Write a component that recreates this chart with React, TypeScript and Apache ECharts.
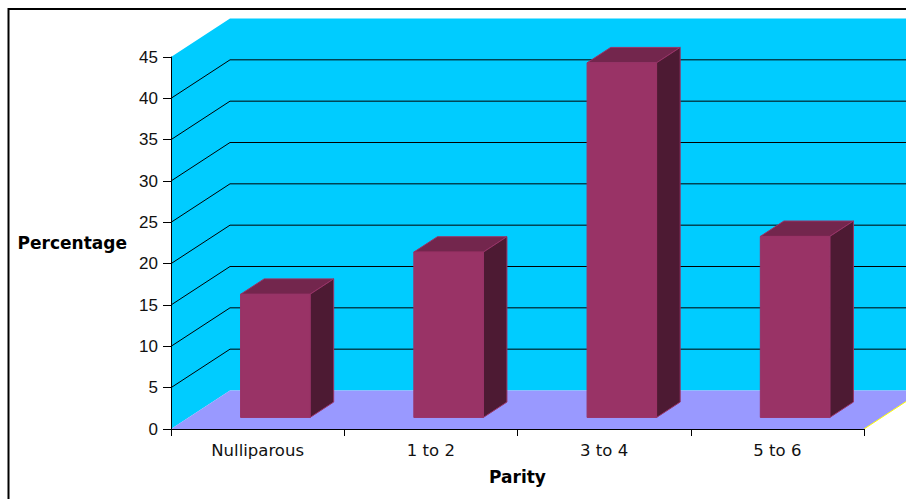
import React, { useEffect, useRef } from "react";
import * as echarts from "echarts";

const categories = ["Nulliparous", "1 to 2", "3 to 4", "5 to 6"];
const percentages = [14.9, 20, 42.9, 21.9];
const wallGridValues = [5, 10, 15, 20, 25, 30, 35, 40];

// Oblique projection of the chart's depth axis, in pixels.
const DEPTH_X = 59;
const DEPTH_Y = 38.5;
const BAR_WIDTH = 69.5;
const BAR_Z_FRONT = 0.3;
const BAR_Z_DEPTH = 0.4;

const LABEL_FONT = "DejaVu Sans";

function wallItem(params: any) {
  const { x, y, width, height } = params.coordSys;
  const r = x + width;
  const b = y + height;
  return {
    type: "polygon",
    silent: true,
    shape: {
      points: [
        [x, b],
        [x, y],
        [x + DEPTH_X, y - DEPTH_Y],
        [r + DEPTH_X, y - DEPTH_Y],
        [r + DEPTH_X, b - DEPTH_Y],
        [x + DEPTH_X, b - DEPTH_Y],
      ],
    },
    style: { fill: "#00CCFF" },
  };
}

function floorItem(params: any) {
  const { x, y, width, height } = params.coordSys;
  const r = x + width;
  const b = y + height;
  return {
    type: "group",
    children: [
      {
        type: "polygon",
        silent: true,
        shape: {
          points: [
            [x, b],
            [r, b],
            [r + DEPTH_X, b - DEPTH_Y],
            [x + DEPTH_X, b - DEPTH_Y],
          ],
        },
        style: { fill: "#9999FF" },
      },
      {
        type: "line",
        silent: true,
        shape: { x1: r, y1: b, x2: r + DEPTH_X, y2: b - DEPTH_Y },
        style: { stroke: "#FFFF00", lineWidth: 1 },
      },
    ],
  };
}

function wallGridItem(params: any, api: any) {
  const { x, width } = params.coordSys;
  const y = api.coord([0, api.value(1)])[1];
  return {
    type: "polyline",
    silent: true,
    shape: {
      points: [
        [x, y],
        [x + DEPTH_X, y - DEPTH_Y],
        [x + width + DEPTH_X, y - DEPTH_Y],
      ],
    },
    style: { fill: "none", stroke: "#000000", lineWidth: 1 },
  };
}

function barItem(_params: any, api: any) {
  const [cx, top] = api.coord([api.value(0), api.value(1)]);
  const [, base] = api.coord([api.value(0), 0]);
  const left = cx + BAR_Z_FRONT * DEPTH_X - BAR_WIDTH / 2;
  const right = left + BAR_WIDTH;
  const yTop = top - BAR_Z_FRONT * DEPTH_Y;
  const yBase = base - BAR_Z_FRONT * DEPTH_Y;
  const dx = BAR_Z_DEPTH * DEPTH_X;
  const dy = BAR_Z_DEPTH * DEPTH_Y;
  const edge = { stroke: "#993366", lineWidth: 1 };
  return {
    type: "group",
    children: [
      {
        type: "polygon",
        shape: {
          points: [
            [left, yTop],
            [right, yTop],
            [right + dx, yTop - dy],
            [left + dx, yTop - dy],
          ],
        },
        style: { fill: "#73264D", ...edge },
      },
      {
        type: "polygon",
        shape: {
          points: [
            [right, yTop],
            [right + dx, yTop - dy],
            [right + dx, yBase - dy],
            [right, yBase],
          ],
        },
        style: { fill: "#4D1A33", ...edge },
      },
      {
        type: "rect",
        shape: { x: left, y: yTop, width: BAR_WIDTH, height: yBase - yTop },
        style: { fill: "#993366", ...edge },
      },
    ],
  };
}

export default function App() {
  const ref = useRef<HTMLDivElement>(null);

  useEffect(() => {
    document.body.style.margin = "0";
    const chart = echarts.init(ref.current!, null, { renderer: "svg" });
    chart.setOption({
      animation: false,
      backgroundColor: "#FFFFFF",
      grid: { left: 171, top: 57, width: 693, height: 372, containLabel: false },
      xAxis: {
        type: "category",
        data: categories,
        z: 5,
        name: "Parity",
        nameLocation: "middle",
        nameGap: 39,
        nameTextStyle: { fontFamily: LABEL_FONT, fontWeight: "bold", fontSize: 17, color: "#000000" },
        axisLine: { lineStyle: { color: "#000000", width: 1 } },
        axisTick: { show: true, alignWithLabel: false, length: 7, lineStyle: { color: "#000000" } },
        axisLabel: { margin: 13, fontFamily: LABEL_FONT, fontSize: 16.5, color: "#111111" },
        splitLine: { show: false },
      },
      yAxis: {
        type: "value",
        min: 0,
        max: 45,
        interval: 5,
        z: 5,
        name: "Percentage",
        nameLocation: "middle",
        nameRotate: 0,
        nameGap: 44,
        nameTextStyle: {
          fontFamily: LABEL_FONT,
          fontWeight: "bold",
          fontSize: 17,
          color: "#000000",
          padding: [0, 0, 2, 0],
        },
        axisLine: { show: true, lineStyle: { color: "#000000", width: 1 } },
        axisTick: { show: true, length: 8, lineStyle: { color: "#000000" } },
        axisLabel: { margin: 13, fontFamily: "Liberation Sans", fontSize: 17, color: "#111111" },
        splitLine: { show: false },
      },
      graphic: [
        {
          type: "rect",
          silent: true,
          z: 10,
          shape: { x: 8.5, y: 9, width: 1200, height: 800 },
          style: { fill: "none", stroke: "#000000", lineWidth: 2 },
        },
      ],
      series: [
        {
          type: "custom",
          name: "wall",
          z: 1,
          silent: true,
          data: [[0, 0]],
          renderItem: wallItem,
        },
        {
          type: "custom",
          name: "floor",
          z: 2,
          silent: true,
          data: [[0, 0]],
          renderItem: floorItem,
        },
        {
          type: "custom",
          name: "wall grid",
          z: 3,
          silent: true,
          data: wallGridValues.map((v) => [0, v]),
          renderItem: wallGridItem,
        },
        {
          type: "custom",
          name: "Percentage",
          z: 4,
          data: percentages.map((v, i) => [i, v]),
          renderItem: barItem,
        },
      ],
    });
    return () => chart.dispose();
  }, []);

  return <div ref={ref} style={{ width: 906, height: 499 }} />;
}
